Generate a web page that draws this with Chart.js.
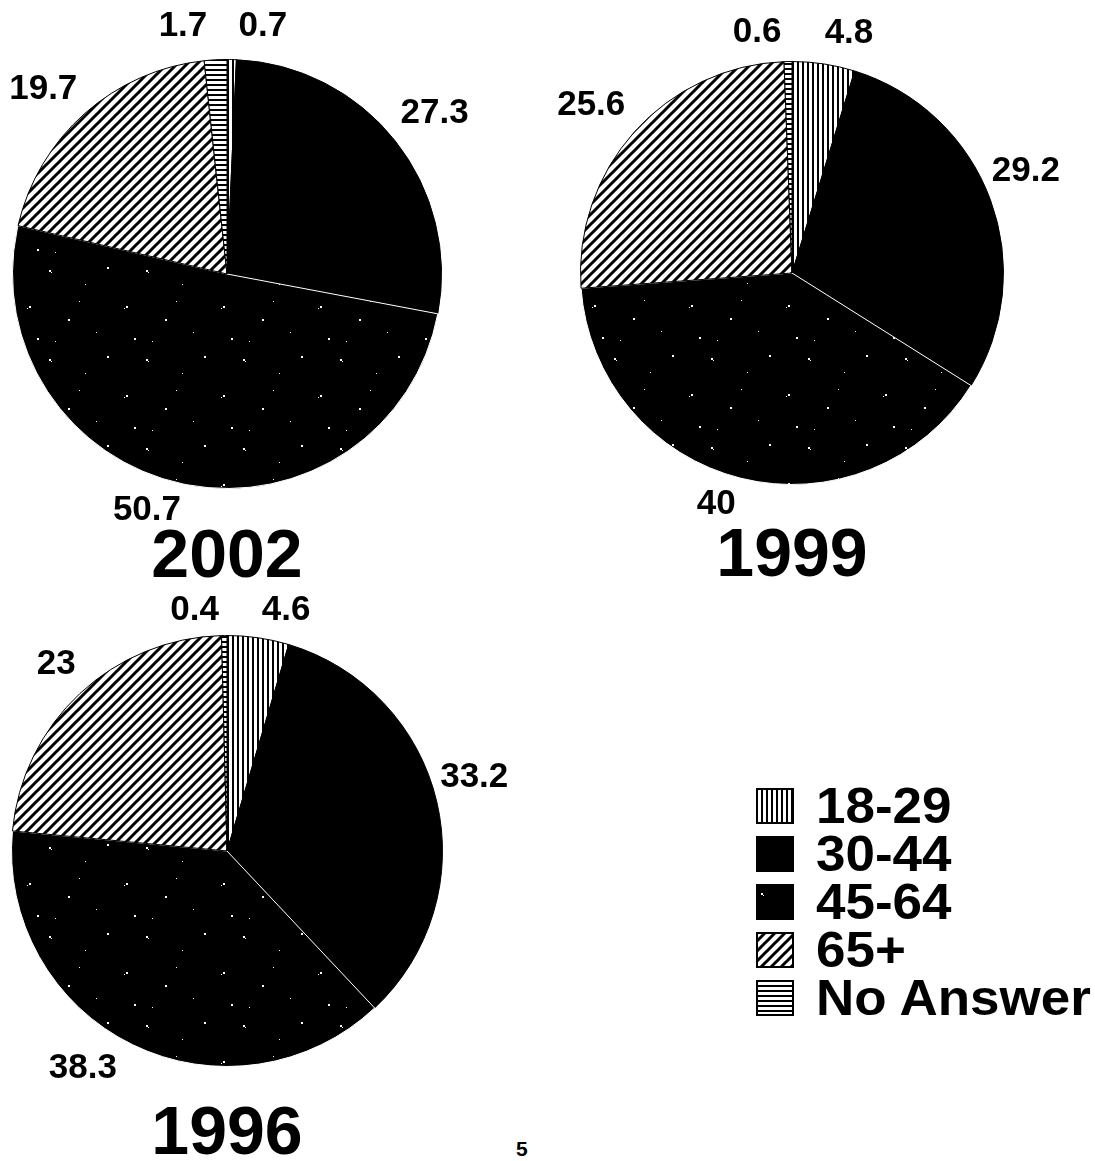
<!DOCTYPE html>
<html>
<head>
<meta charset="utf-8">
<title>Age groups 1996 - 2002</title>
<script src="https://cdn.jsdelivr.net/npm/chart.js@4.4.1/dist/chart.umd.min.js"></script>
<style>
  html, body { margin: 0; padding: 0; background: #fff; overflow: hidden; }
  #page {
    position: relative; width: 1095px; height: 1161px; overflow: hidden;
    font-family: "Liberation Sans", Arial, sans-serif; font-weight: bold; color: #000;
  }
  .pie { position: absolute; }
  #legend { position: absolute; left: 756px; top: 782px; }
  .row { display: flex; align-items: center; height: 48px; font-size: 50px; line-height: 48px; white-space: nowrap; }
  .row canvas { width: 38px; height: 36px; margin-right: 22px; }
  .row span { display: inline-block; transform: scaleX(1.06); transform-origin: left center; }
  #pageNo { position: absolute; left: 516px; top: 1137px; font-size: 21px; line-height: 24px; }
</style>
</head>
<body>
<div id="page">
  <div id="legend"></div>
  <div id="pageNo">5</div>
</div>
<script>
const categories = ['18-29', '30-44', '45-64', '65+', 'No Answer'];
const years = ['2002', '1999', '1996'];
const values2002 = [0.7, 27.3, 50.7, 19.7, 1.7];
const values1999 = [4.8, 29.2, 40, 25.6, 0.6];
const values1996 = [4.6, 33.2, 38.3, 23, 0.4];
const seriesByYear = { '2002': values2002, '1999': values1999, '1996': values1996 };

// where each pie sits on the page, and small label shifts so they don't crowd
const pieLayout = {
  '2002': { cx: 227, cy: 274, r: 215, nudge: [[30, 0], [-6, -8], [-24, -12], [-3, 0], [-30, 0]] },
  '1999': { cx: 792, cy: 273, r: 212, nudge: [[18, 3], [-19, -18], [-14, -12], [0, -5], [-30, 4]] },
  '1996': { cx: 227, cy: 851, r: 216, nudge: [[21, 6], [-19, -19], [-24, -12], [6, -5], [-29, 8]] }
};
const fills = ['vertical', 'solid', 'speckle', 'diagonal', 'horizontal'];
const FONT = '"Liberation Sans", Arial, sans-serif';
const CANVAS_W = 560, CANVAS_H = 620, HALF = 280;

// a few fixed white flecks for the 45-64 fill (mostly black)
const flecks = [[5, 9, 2], [7, 11, 1], [41, 23, 1], [63, 6, 2], [80, 47, 1], [82, 45, 2],
                [24, 58, 2], [52, 71, 1], [11, 80, 1], [90, 77, 2], [35, 40, 1]];

function makePattern(ctx, kind) {
  const t = document.createElement('canvas');
  const c = t.getContext('2d');
  if (kind === 'vertical') {
    t.width = 5; t.height = 5;
    c.fillStyle = '#fff'; c.fillRect(0, 0, 5, 5);
    c.fillStyle = '#000'; c.fillRect(0, 0, 2, 5);
  } else if (kind === 'horizontal') {
    t.width = 5; t.height = 5;
    c.fillStyle = '#fff'; c.fillRect(0, 0, 5, 5);
    c.fillStyle = '#000'; c.fillRect(0, 0, 5, 2);
  } else if (kind === 'diagonal') {
    t.width = 10; t.height = 10;
    c.fillStyle = '#fff'; c.fillRect(0, 0, 10, 10);
    c.strokeStyle = '#000'; c.lineWidth = 3;
    c.beginPath();
    c.moveTo(-5, 15); c.lineTo(15, -5);
    c.moveTo(-5, 5); c.lineTo(5, -5);
    c.moveTo(5, 15); c.lineTo(15, 5);
    c.stroke();
  } else if (kind === 'speckle') {
    t.width = 97; t.height = 89;
    c.fillStyle = '#000'; c.fillRect(0, 0, 97, 89);
    c.fillStyle = '#fff';
    flecks.forEach(([x, y, s]) => c.fillRect(x, y, s, s));
  } else {
    return '#000';
  }
  return ctx.createPattern(t, 'repeat');
}

const sliceLabels = {
  id: 'sliceLabels',
  afterDatasetsDraw(chart, args, opts) {
    const ctx = chart.ctx;
    const meta = chart.getDatasetMeta(0);
    const values = chart.data.datasets[0].data;
    const size = 35, capH = size * 0.716;
    ctx.save();
    ctx.fillStyle = '#000';
    ctx.textAlign = 'center';
    ctx.textBaseline = 'alphabetic';
    ctx.font = 'bold ' + size + 'px ' + FONT;
    let cx = 0, cy = 0;
    meta.data.forEach((arc, i) => {
      const p = arc.getProps(['x', 'y', 'startAngle', 'endAngle', 'outerRadius'], true);
      cx = p.x; cy = p.y;
      const mid = (p.startAngle + p.endAngle) / 2;
      const dx = Math.cos(mid), dy = Math.sin(mid);
      const text = String(values[i]);
      const w = ctx.measureText(text).width;
      const n = opts.nudge[i] || [0, 0];
      const lx = p.x + (p.outerRadius + opts.gap) * dx + dx * w / 2 + n[0];
      const ly = p.y + (p.outerRadius + opts.gap) * dy + dy * capH / 2 + n[1];
      ctx.fillText(text, lx, ly + capH / 2);
    });
    // year caption under the pie
    const ys = 68;
    ctx.font = 'bold ' + ys + 'px ' + FONT;
    ctx.fillText(opts.year, cx, cy + opts.yearDrop + ys * 0.716 / 2);
    ctx.restore();
  }
};

const page = document.getElementById('page');

years.forEach(year => {
  const lay = pieLayout[year];
  const canvas = document.createElement('canvas');
  canvas.className = 'pie';
  canvas.width = CANVAS_W;
  canvas.height = CANVAS_H;
  canvas.style.left = (lay.cx - HALF) + 'px';
  canvas.style.top = (lay.cy - HALF) + 'px';
  page.appendChild(canvas);
  const ctx = canvas.getContext('2d');

  new Chart(ctx, {
    type: 'pie',
    data: {
      labels: categories,
      datasets: [{
        data: seriesByYear[year],
        backgroundColor: fills.map(f => makePattern(ctx, f)),
        borderColor: ['#000', '#000', '#fff', '#000', '#000'],
        borderWidth: 1
      }]
    },
    options: {
      responsive: false,
      devicePixelRatio: 1,
      animation: false,
      events: [],
      layout: {
        padding: {
          left: HALF - lay.r,
          right: CANVAS_W - HALF - lay.r,
          top: HALF - lay.r,
          bottom: CANVAS_H - HALF - lay.r
        }
      },
      plugins: {
        legend: { display: false },
        tooltip: { enabled: false },
        sliceLabels: { nudge: lay.nudge, gap: 24, year: year, yearDrop: 279 }
      }
    },
    plugins: [sliceLabels]
  });
});

// legend with the same fills
const legend = document.getElementById('legend');
categories.forEach((cat, i) => {
  const row = document.createElement('div');
  row.className = 'row';
  const sw = document.createElement('canvas');
  sw.width = 38; sw.height = 36;
  const sctx = sw.getContext('2d');
  sctx.fillStyle = makePattern(sctx, fills[i]);
  sctx.fillRect(0, 0, 38, 36);
  sctx.strokeStyle = '#000';
  sctx.lineWidth = 2;
  sctx.strokeRect(1, 1, 36, 34);
  const label = document.createElement('span');
  label.textContent = cat;
  row.appendChild(sw);
  row.appendChild(label);
  legend.appendChild(row);
});
</script>
</body>
</html>
